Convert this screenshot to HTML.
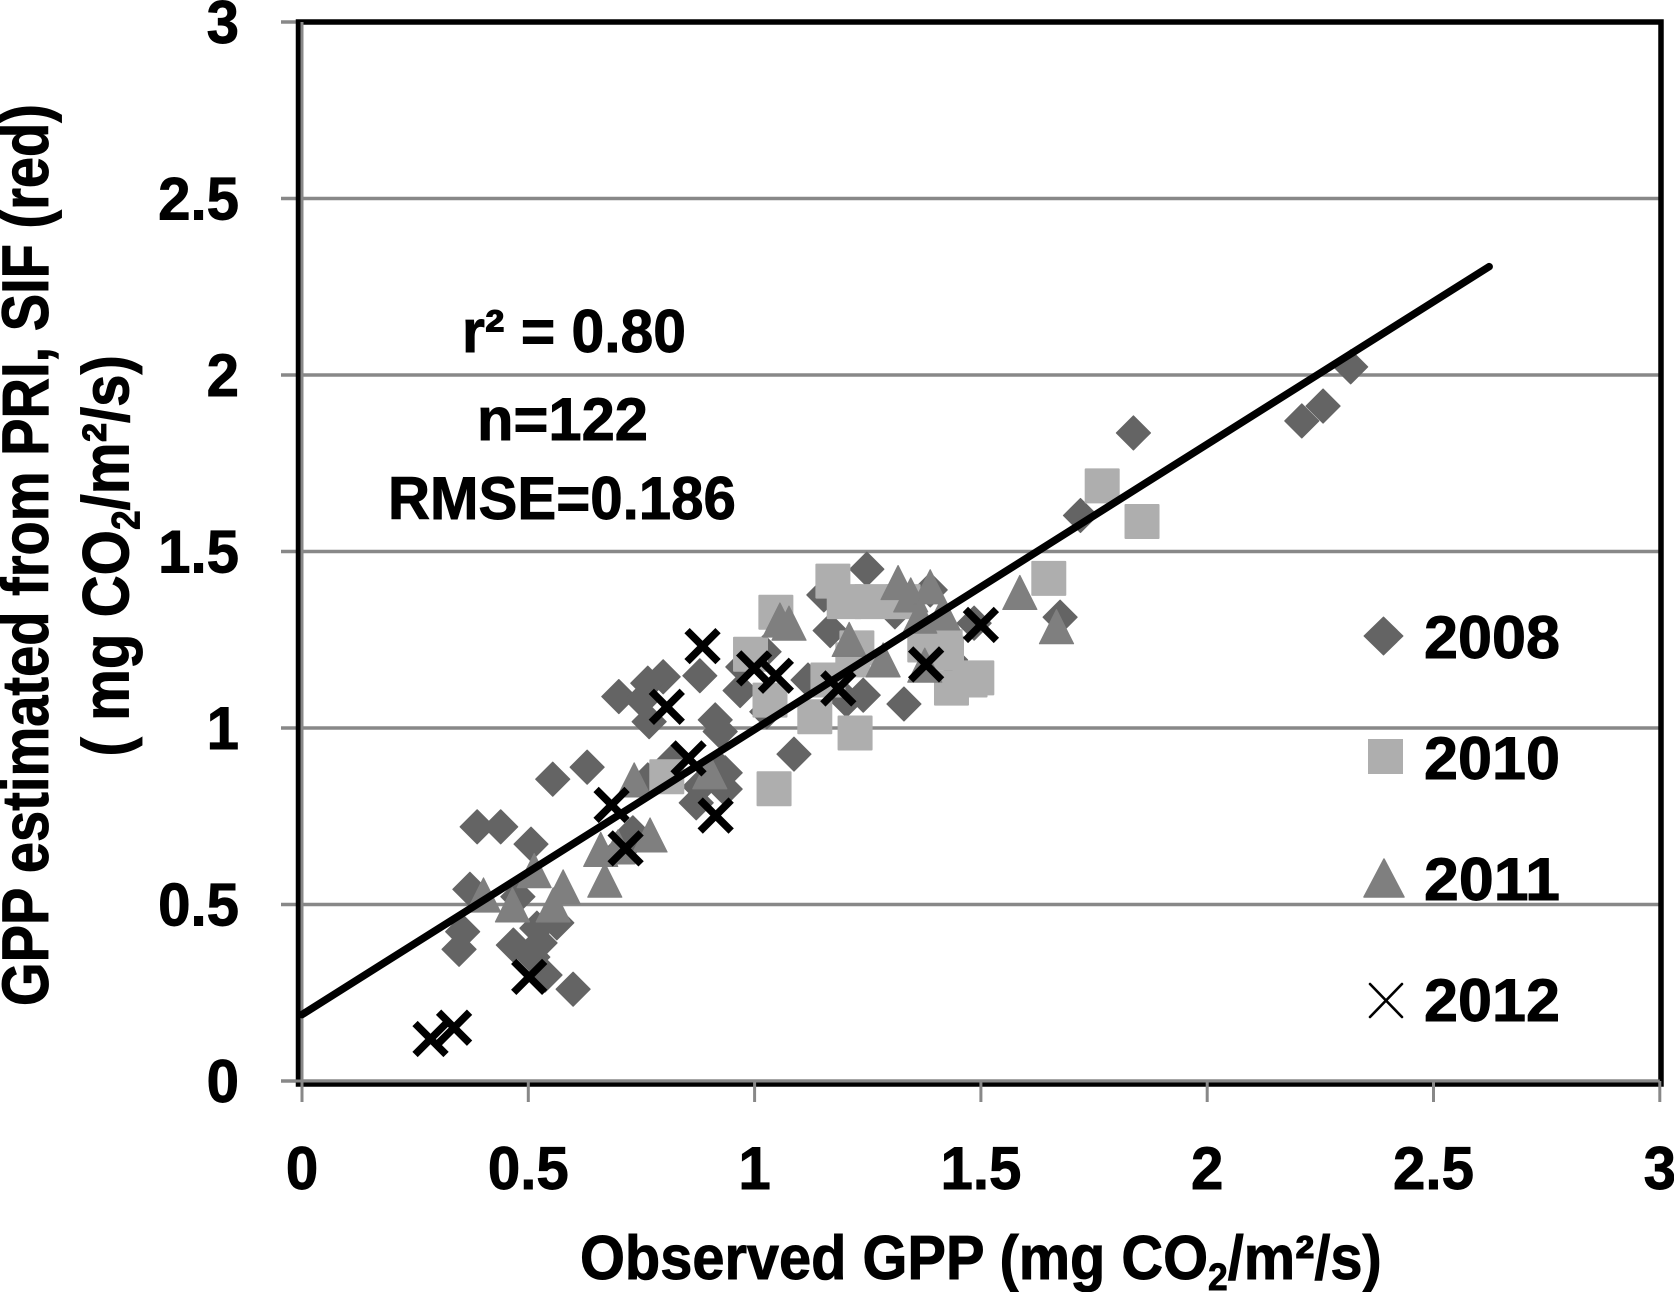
<!DOCTYPE html>
<html lang="en">
<head>
<meta charset="utf-8">
<title>Observed vs estimated GPP</title>
<style>
html,body{margin:0;padding:0;background:#fff;width:1674px;height:1292px;overflow:hidden}
svg{display:block}
text{font-family:"Liberation Sans",sans-serif;font-weight:bold;fill:#000;stroke:#000;stroke-width:.9px}
</style>
</head>
<body>
<svg id="chart" xmlns="http://www.w3.org/2000/svg" width="1674" height="1292" viewBox="0 0 1674 1292">
  <rect x="0" y="0" width="1674" height="1292" fill="#fff"/>
  <g id="grid"></g>
  <rect x="298.5" y="22" width="1362.5" height="1062" fill="none" stroke="#000" stroke-width="5.5"/>
  <g id="axes"></g>
  <g id="marks"></g>
  <g id="labels"></g>

  <text class="fit" data-x="462" data-y="352" data-w="224" font-size="60">r² = 0.80</text>
  <text class="fit" data-x="477" data-y="440" data-w="171" font-size="60">n=122</text>
  <text class="fit" data-x="388" data-y="519" data-w="348" font-size="60">RMSE=0.186</text>

  <text class="fit" data-x="580" data-y="1279" data-w="802" font-size="62">Observed GPP (mg CO<tspan dy="11" font-size="38">2</tspan><tspan dy="-11">/m²/s)</tspan></text>
  <text class="fit" data-x="48" data-y="1006" data-w="902" data-rot="-90" font-size="66">GPP estimated from PRI, SIF (red)</text>
  <text class="fit" data-x="128.5" data-y="756.5" data-w="401.5" data-rot="-90" font-size="66">( mg CO<tspan dy="11" font-size="40">2</tspan><tspan dy="-11">/m²/s)</tspan></text>

  <g>
    <g>
      <polygon points="1383.5,617 1403,636 1383.5,655 1364,636" fill="#646464" stroke="#646464" stroke-width="1" stroke-linejoin="round"/>
      <text class="fit" data-x="1424" data-y="658" data-w="136" font-size="60">2008</text>
    </g>
    <g>
      <rect x="1368" y="739" width="35" height="35" fill="#aeaeae"/>
      <text class="fit" data-x="1424" data-y="779" data-w="136" font-size="60">2010</text>
    </g>
    <g>
      <polygon points="1384,859 1404,897 1364,897" fill="#7f7f7f" stroke="#7f7f7f" stroke-width="1.5" stroke-linejoin="round"/>
      <text class="fit" data-x="1424" data-y="900" data-w="136" font-size="60">2011</text>
    </g>
    <g>
      <path d="M1370,984 L1402,1017 M1402,984 L1370,1017" fill="none" stroke="#000" stroke-width="2.6" stroke-linecap="round"/>
      <text class="fit" data-x="1424" data-y="1021" data-w="136" font-size="60">2012</text>
    </g>
  </g>
</svg>
<script>
var xTicks = [0, 0.5, 1, 1.5, 2, 2.5, 3];
var yTicks = [0, 0.5, 1, 1.5, 2, 2.5, 3];
var xTickLabels = ['0', '0.5', '1', '1.5', '2', '2.5', '3'];
var yTickLabels = ['0', '0.5', '1', '1.5', '2', '2.5', '3'];

var obs2008 = [1.248,1.153,1.167,1.388,1.310,1.485,1.675,1.021,0.879,0.974,0.968,0.798,0.764,0.700,0.751,0.767,0.913,0.924,1.027,1.118,1.240,1.203,1.330,1.087,1.433,0.815,0.919,0.935,0.935,0.879,0.871,0.764,0.554,0.630,0.387,0.439,0.506,0.371,0.477,0.355,0.347,0.467,0.519,0.563,0.526,0.510,0.537,0.599,0.731,0.714,2.317,2.256,2.209,1.837,1.720];
var est2008 = [1.450,1.377,1.276,1.391,1.329,1.297,1.314,1.216,1.148,1.173,1.106,1.145,1.127,1.089,1.079,1.018,1.023,0.990,1.046,1.136,1.093,1.079,1.068,0.926,1.193,0.901,0.890,0.873,0.827,0.834,0.788,0.853,0.855,0.889,0.720,0.720,0.671,0.543,0.522,0.423,0.373,0.385,0.433,0.448,0.391,0.351,0.300,0.260,0.703,0.664,2.023,1.912,1.870,1.836,1.602];

var obs2010 = [1.173,1.047,1.198,1.259,1.328,1.650,1.226,0.991,1.162,1.217,1.034,1.133,1.222,1.043,0.806,1.376,1.421,1.424,1.491,1.476,1.435,1.768,1.856];
var est2010 = [1.416,1.328,1.358,1.358,1.358,1.424,1.227,1.209,1.136,1.193,1.079,1.032,0.986,0.828,0.862,1.235,1.230,1.212,1.142,1.136,1.113,1.686,1.585];

var obs2011 = [1.586,1.667,1.317,1.345,1.388,1.416,1.365,1.056,1.076,1.209,1.284,1.376,0.901,0.734,0.769,0.660,0.698,0.669,0.513,0.577,0.555,0.465,0.401];
var est2011 = [1.384,1.287,1.412,1.377,1.400,1.326,1.317,1.306,1.297,1.251,1.193,1.178,0.876,0.853,0.697,0.656,0.663,0.569,0.596,0.550,0.499,0.499,0.527];

var obs2012 = [0.885,0.999,1.047,0.806,1.185,1.379,1.500,0.854,0.914,0.684,0.715,0.502,0.336,0.284];
var est2012 = [1.232,1.169,1.148,1.060,1.112,1.180,1.292,0.914,0.752,0.782,0.659,0.295,0.151,0.119];

var trendObs = [0, 2.623];
var trendEst = [0.188, 2.307];

var SVGNS = 'http://www.w3.org/2000/svg';
function sx(v) { return 302 + 452.6 * v; }
function sy(v) { return 1081 - 353 * v; }
function mk(tag, parent) {
  var el = document.createElementNS(SVGNS, tag);
  parent.appendChild(el);
  return el;
}

var grid = document.getElementById('grid');
var axes = document.getElementById('axes');
var marks = document.getElementById('marks');
var labels = document.getElementById('labels');

yTicks.forEach(function (t, i) {
  var line = mk('line', grid);
  
  
  line.setAttribute('x1', 281);
  line.setAttribute('x2', i === yTicks.length - 1 ? 302 : 1660);
  line.setAttribute('y1', sy(t));
  line.setAttribute('y2', sy(t));
  line.setAttribute('stroke', '#888');
  line.setAttribute('stroke-width', 3.4);
  var lab = mk('text', labels);
  
  
  lab.setAttribute('transform', 'translate(239,' + (sy(t) + 21) + ') scale(0.97,1)');
  lab.setAttribute('text-anchor', 'end');
  lab.setAttribute('font-size', 60);
  lab.textContent = yTickLabels[i];
});

xTicks.forEach(function (t, i) {
  var line = mk('line', axes);
  
  
  line.setAttribute('x1', sx(t));
  line.setAttribute('x2', sx(t));
  line.setAttribute('y1', sy(0));
  line.setAttribute('y2', 1102);
  line.setAttribute('stroke', '#888');
  line.setAttribute('stroke-width', 3);
  var lab = mk('text', labels);
  
  
  lab.setAttribute('transform', 'translate(' + sx(t) + ',1189) scale(0.97,1)');
  lab.setAttribute('text-anchor', 'middle');
  lab.setAttribute('font-size', 60);
  lab.textContent = xTickLabels[i];
});

var yAxisLine = mk('line', axes);


yAxisLine.setAttribute('x1', sx(0));
yAxisLine.setAttribute('x2', sx(0));
yAxisLine.setAttribute('y1', sy(3));
yAxisLine.setAttribute('y2', 1102);
yAxisLine.setAttribute('stroke', '#888');
yAxisLine.setAttribute('stroke-width', 3);

var xAxisLine = mk('line', axes);


xAxisLine.setAttribute('x1', 281);
xAxisLine.setAttribute('x2', sx(3));
xAxisLine.setAttribute('y1', sy(0));
xAxisLine.setAttribute('y2', sy(0));
xAxisLine.setAttribute('stroke', '#888');
xAxisLine.setAttribute('stroke-width', 3);

obs2008.forEach(function (v, i) {
  var cx = sx(v), cy = sy(est2008[i]), r = 17;
  var p = mk('polygon', marks);
  
  
  p.setAttribute('points', cx + ',' + (cy - r) + ' ' + (cx + r) + ',' + cy + ' ' + cx + ',' + (cy + r) + ' ' + (cx - r) + ',' + cy);
  p.setAttribute('fill', '#646464');
  p.setAttribute('stroke', '#646464');
  p.setAttribute('stroke-width', 1.2);
  p.setAttribute('stroke-linejoin', 'round');
});

obs2010.forEach(function (v, i) {
  var cx = sx(v), cy = sy(est2010[i]), r = 17.5;
  var p = mk('rect', marks);
  
  
  p.setAttribute('x', cx - r);
  p.setAttribute('y', cy - r);
  p.setAttribute('width', 2 * r);
  p.setAttribute('height', 2 * r);
  p.setAttribute('rx', 1);
  p.setAttribute('fill', '#aeaeae');
});

obs2011.forEach(function (v, i) {
  var cx = sx(v), cy = sy(est2011[i]), r = 17;
  var p = mk('polygon', marks);
  
  
  p.setAttribute('points', cx + ',' + (cy - r) + ' ' + (cx + r) + ',' + (cy + r) + ' ' + (cx - r) + ',' + (cy + r));
  p.setAttribute('fill', '#7f7f7f');
  p.setAttribute('stroke', '#7f7f7f');
  p.setAttribute('stroke-width', 1.2);
  p.setAttribute('stroke-linejoin', 'round');
});

var trend = mk('line', marks);


trend.setAttribute('x1', sx(trendObs[0]));
trend.setAttribute('y1', sy(trendEst[0]));
trend.setAttribute('x2', sx(trendObs[1]));
trend.setAttribute('y2', sy(trendEst[1]));
trend.setAttribute('stroke', '#000');
trend.setAttribute('stroke-width', 7.5);
trend.setAttribute('stroke-linecap', 'round');

obs2012.forEach(function (v, i) {
  var cx = sx(v), cy = sy(est2012[i]), r = 15.5;
  var p = mk('path', marks);
  
  
  p.setAttribute('d', 'M' + (cx - r) + ',' + (cy - r) + 'L' + (cx + r) + ',' + (cy + r) + 'M' + (cx + r) + ',' + (cy - r) + 'L' + (cx - r) + ',' + (cy + r));
  p.setAttribute('fill', 'none');
  p.setAttribute('stroke', '#000');
  p.setAttribute('stroke-width', 7.5);
});

Array.prototype.forEach.call(document.querySelectorAll('.fit'), function (el) {
  var len = el.getComputedTextLength();
  var w = +el.getAttribute('data-w');
  var rot = el.getAttribute('data-rot');
  var tf = 'translate(' + el.getAttribute('data-x') + ',' + el.getAttribute('data-y') + ')';
  if (rot) { tf += ' rotate(' + rot + ')'; }
  tf += ' scale(' + (w / len) + ',1)';
  el.setAttribute('transform', tf);
});
</script>
</body>
</html>
